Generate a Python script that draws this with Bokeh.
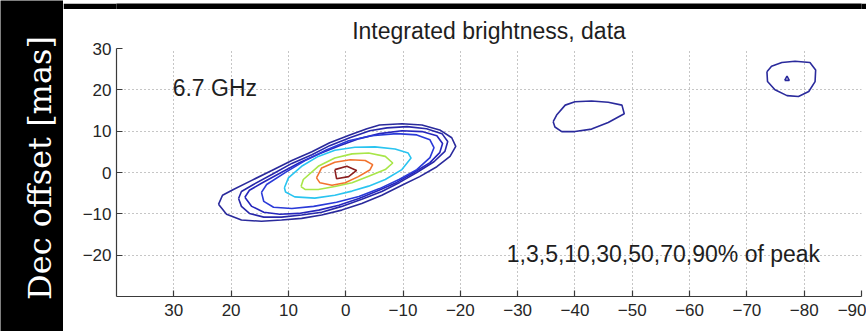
import math
from bokeh.plotting import figure
from bokeh.models import Range1d, FixedTicker
from bokeh.layouts import row, column
from bokeh.core.properties import value
from bokeh.embed import file_html
from bokeh.resources import INLINE

# ---------------- data ----------------
title_text = "Integrated brightness, data"
y_label = "Dec offset [mas]"
freq_label = "6.7 GHz"
levels_label = "1,3,5,10,30,50,70,90% of peak"

x_ticks = [30, 20, 10, 0, -10, -20, -30, -40, -50, -60, -70, -80, -90]
x_tick_labels = ["30", "20", "10", "0", "\u221210", "\u221220", "\u221230", "\u221240",
                 "\u221250", "\u221260", "\u221270", "\u221280", "\u221290"]
y_ticks = [-20, -10, 0, 10, 20, 30]
y_tick_labels = ["\u221220", "\u221210", "0", "10", "20", "30"]

levels = ["1%", "3%", "5%", "10%", "30%", "50%", "70%", "90%"]

# contour outlines (RA offset, Dec offset) in mas
c1_x = [22.2, 21.5, 19.6, 16.4, 12.9, 9.4, 5.9, 2.8, -0.7, -3.7, -5.9, -9.8, -13.3, -16.4,
        -18.5, -19.2, -18.2, -15.9, -12.9, -9.8, -6.3, -2.8, 0.7, 4.2, 7.7, 11.2, 14.7, 18.2, 20.8]
c1_y = [-7.7, -5.5, -4.1, -1.9, 0.5, 2.9, 5.0, 7.2, 9.1, 10.6, 11.5, 11.8, 11.5, 10.3,
        8.4, 6.3, 3.9, 1.4, -1.0, -3.1, -5.5, -7.5, -9.1, -10.3, -11.1, -11.5, -11.8, -11.5, -10.1]

c3_x = [18.7, 18.2, 16.1, 12.9, 9.4, 5.9, 2.8, -0.7, -4.2, -7.2, -10.7, -14.1, -16.8, -17.8,
        -17.3, -15.4, -12.4, -9.4, -6.3, -2.8, 0.7, 4.2, 7.7, 11.2, 14.3, 16.8, 18.2]
c3_y = [-6.3, -4.6, -2.9, -0.5, 2.2, 4.3, 6.5, 8.4, 10.1, 10.8, 11.1, 10.6, 9.4, 7.5,
        5.1, 2.6, 0.0, -2.4, -4.6, -6.5, -8.2, -9.6, -10.3, -10.8, -10.8, -9.9, -8.2]

c5_x = [17.6, 16.8, 14.7, 11.5, 8.0, 4.5, 1.1, -2.4, -5.9, -9.8, -13.3, -15.9, -16.9, -16.4,
        -14.7, -11.9, -8.9, -5.8, -2.3, 1.2, 4.7, 8.2, 11.5, 14.3, 16.4]
c5_y = [-6.0, -4.3, -2.6, -0.2, 2.4, 4.6, 6.5, 8.2, 9.4, 10.1, 9.9, 8.9, 7.0, 4.8,
        2.4, 0.0, -2.4, -4.3, -6.3, -7.9, -9.1, -9.9, -10.1, -9.6, -8.2]

c10_x = [14.7, 13.8, 10.3, 6.8, 3.3, -0.5, -4.5, -8.9, -12.4, -14.7, -15.4, -14.7, -12.4,
         -9.3, -5.9, -2.3, 1.6, 5.6, 9.4, 12.6, 14.3]
c10_y = [-4.8, -2.9, 0.2, 3.1, 5.5, 7.7, 8.9, 9.4, 9.1, 7.9, 6.0, 3.6, 0.7,
         -1.7, -3.9, -5.8, -7.2, -8.2, -8.7, -8.4, -7.0]

c30_x = [10.7, 10.0, 7.7, 4.8, 1.9, -1.6, -5.1, -8.6, -10.9, -11.4, -9.8, -6.9, -4.0, -1.1,
         1.9, 5.4, 8.9, 10.5]
c30_y = [-3.7, -1.3, 1.5, 3.9, 5.4, 6.1, 6.2, 5.7, 4.7, 3.5, 0.7, -1.7, -3.3, -4.5,
         -5.5, -6.2, -5.9, -4.7]

c50_x = [7.8, 7.4, 4.8, 1.9, -1.1, -4.0, -6.9, -8.2, -6.9, -4.0, -1.1, 1.9, 4.8, 7.1]
c50_y = [-3.4, -1.7, 1.5, 3.5, 4.5, 4.7, 3.9, 2.3, 0.7, -0.9, -2.5, -3.4, -4.1, -4.1]

c70_x = [5.1, 4.2, 1.9, -0.8, -3.4, -4.7, -4.2, -2.2, 0.1, 2.4, 4.5]
c70_y = [-1.3, 1.1, 2.5, 3.1, 2.9, 1.9, 0.6, -1.0, -2.5, -3.1, -2.5]

c90_x = [1.9, -0.2, -1.9, -0.5, 1.6]
c90_y = [0.7, 1.5, 0.5, -1.0, -1.5]

# 1% islands
isl_a_x = [-36.2, -36.8, -38.3, -40.0, -42.9, -45.8, -48.2, -48.6, -45.8, -42.9, -40.0, -37.7, -36.5]
isl_a_y = [12.3, 13.9, 16.3, 17.1, 17.3, 17.0, 16.3, 14.2, 12.1, 10.5, 9.9, 9.9, 11.0]
isl_b_x = [-73.5, -74.3, -76.1, -78.4, -81.0, -82.0, -81.9, -80.8, -79.0, -77.0, -74.9, -73.6]
isl_b_y = [24.4, 25.7, 26.6, 26.9, 26.6, 24.8, 22.0, 19.6, 18.4, 18.6, 20.0, 22.0]
isl_c_x = [-76.6, -77.0, -77.4]
isl_c_y = [22.3, 23.3, 22.3]

# ---------------- styles ----------------
level_colors = {"1%": "#2a2a9c", "3%": "#2828aa", "5%": "#2626bc", "10%": "#2a3ad8",
                "30%": "#2ac4f0", "50%": "#a8e648", "70%": "#f2732e", "90%": "#8c2020"}
SANS = "Liberation Sans"

def closed(a):
    return list(a) + [a[0]]

contours = [
    ("1%", c1_x, c1_y), ("3%", c3_x, c3_y), ("5%", c5_x, c5_y), ("10%", c10_x, c10_y),
    ("30%", c30_x, c30_y), ("50%", c50_x, c50_y), ("70%", c70_x, c70_y), ("90%", c90_x, c90_y),
    ("1%", isl_a_x, isl_a_y), ("1%", isl_b_x, isl_b_y), ("1%", isl_c_x, isl_c_y),
]

# ---------------- main plot ----------------
p = figure(width=803, height=322, x_range=Range1d(40, -90), y_range=Range1d(-30, 30),
           output_backend="svg", toolbar_location=None, title=title_text,
           min_border_left=53, min_border_right=5, min_border_top=39, min_border_bottom=35)
p.border_fill_color = "white"
p.background_fill_color = "white"
p.outline_line_color = None

p.title.align = "center"
p.title.text_font = SANS
p.title.text_font_size = "23px"
p.title.text_font_style = "normal"
p.title.text_color = "#1e1e1e"

for ax, ticks, labels in ((p.xaxis[0], x_ticks, x_tick_labels), (p.yaxis[0], y_ticks, y_tick_labels)):
    ax.ticker = FixedTicker(ticks=ticks)
    ax.major_label_overrides = {t: l for t, l in zip(ticks, labels)}
    ax.major_label_text_font = SANS
    ax.major_label_text_font_size = "17px"
    ax.major_label_text_color = "#262626"
    ax.axis_line_color = "#3a3a3a"
    ax.axis_line_width = 1.2
    ax.major_tick_line_color = "#3a3a3a"
    ax.major_tick_line_width = 1.2
    ax.major_tick_in = 6
    ax.major_tick_out = 0
    ax.minor_tick_line_color = None
p.xaxis.major_label_standoff = 7
p.yaxis.major_label_standoff = 5

for g in (p.xgrid[0], p.ygrid[0]):
    g.grid_line_color = "#8c8c8c"
    g.grid_line_dash = "1 3"
    g.grid_line_width = 1

xs = [closed(cx) for _, cx, _ in contours]
ys = [closed(cy) for _, _, cy in contours]
cols = [level_colors[lv] for lv, _, _ in contours]
p.multi_line(xs=xs, ys=ys, line_color=cols, line_width=1.6)

p.text(x=[30.2], y=[20.4], text=[freq_label], text_font=value(SANS), text_font_size="23px",
       text_align="left", text_baseline="alphabetic", text_color="#1e1e1e")
p.text(x=[-28.1], y=[-19.6], text=[levels_label], text_font=value(SANS), text_font_size="23px",
       text_align="left", text_baseline="alphabetic", text_color="#1e1e1e")

# ---------------- black surround with y label ----------------
left = figure(width=63, height=331, x_range=Range1d(0, 63), y_range=Range1d(0, 331),
              output_backend="svg", toolbar_location=None, x_axis_type=None, y_axis_type=None,
              min_border=0)
left.border_fill_color = "black"
left.background_fill_color = "black"
left.outline_line_color = None
left.grid.visible = False
left.text(x=[39], y=[163.5], text=[y_label], angle=math.pi / 2, text_font=value("DejaVu Serif"),
          text_font_size="32px", text_align="center", text_baseline="alphabetic", text_color="white")

strip = figure(width=803, height=9, output_backend="svg", toolbar_location=None,
               x_axis_type=None, y_axis_type=None, min_border=0)
strip.border_fill_color = "black"
strip.background_fill_color = "black"
strip.outline_line_color = None
strip.grid.visible = False

layout = row(left, column(strip, p, spacing=0), spacing=0)

open("out.html", "w").write(file_html(layout, INLINE))
